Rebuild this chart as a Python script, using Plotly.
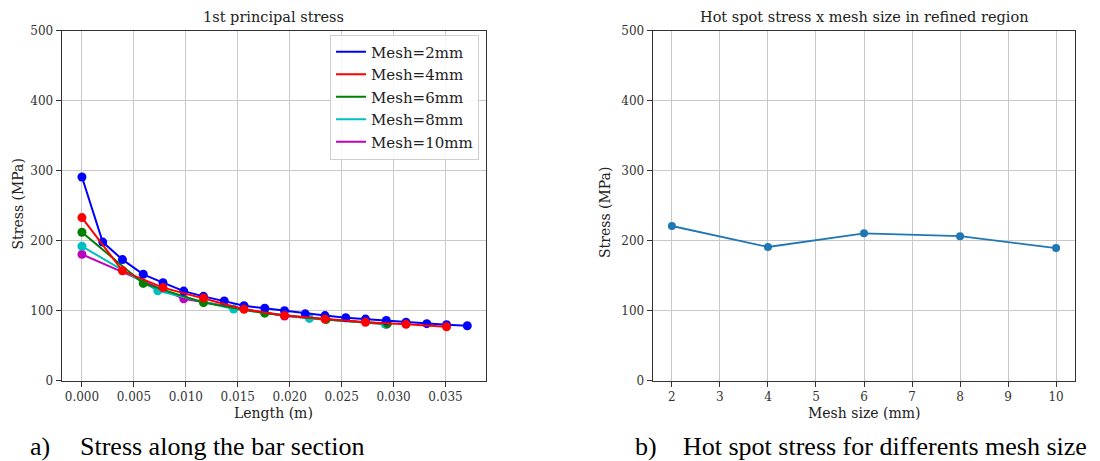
import plotly.graph_objects as go

# 1st principal stress along the bar section, one series per mesh size
len_2mm = [0.0, 0.0020, 0.0039, 0.0059, 0.0078, 0.0098, 0.0117, 0.0137, 0.0156, 0.0176,
           0.0195, 0.0215, 0.0234, 0.0254, 0.0273, 0.0293, 0.0312, 0.0332, 0.0351, 0.0371]
stress_2mm = [291, 198, 173, 152, 140, 128, 120.5, 114, 107, 103.5,
              100, 95.5, 93, 90, 88, 86, 83.5, 81.5, 80, 78.5]

len_4mm = [0.0, 0.0039, 0.0078, 0.0117, 0.0156, 0.0195, 0.0234, 0.0273, 0.0312, 0.0351]
stress_4mm = [233, 157, 133, 118, 102, 93, 88, 83.5, 80.5, 77]

len_6mm = [0.0, 0.0059, 0.0117, 0.0176, 0.0235, 0.0294]
stress_6mm = [212, 139, 111.5, 96.5, 87.5, 81.5]

len_8mm = [0.0, 0.0073, 0.0146, 0.0219, 0.0292]
stress_8mm = [192, 128.5, 102.5, 89, 81]

len_10mm = [0.0, 0.0098, 0.0195, 0.0293]
stress_10mm = [180.5, 117, 92.5, 80.5]

series_names = ["Mesh=2mm", "Mesh=4mm", "Mesh=6mm", "Mesh=8mm", "Mesh=10mm"]
series_colors = ["#0000ff", "#ff0000", "#008000", "#00bfbf", "#bf00bf"]

# Hot spot stress against mesh size in the refined region
mesh_size = [2, 4, 6, 8, 10]
hot_spot = [221, 191, 210.5, 206.5, 189.5]

x_ticks_len = [0.000, 0.005, 0.010, 0.015, 0.020, 0.025, 0.030, 0.035]
x_ticks_mesh = [2, 3, 4, 5, 6, 7, 8, 9, 10]
y_ticks = [0, 100, 200, 300, 400, 500]

AX_FONT = "DejaVu Serif"
CAP_FONT = "Liberation Serif"
W, H = 1100, 461

fig = go.Figure()

series = {
    "Mesh=2mm": (len_2mm, stress_2mm),
    "Mesh=4mm": (len_4mm, stress_4mm),
    "Mesh=6mm": (len_6mm, stress_6mm),
    "Mesh=8mm": (len_8mm, stress_8mm),
    "Mesh=10mm": (len_10mm, stress_10mm),
}
color_of = dict(zip(series_names, series_colors))

# data traces (drawing order: coarse meshes underneath)
for name in ["Mesh=10mm", "Mesh=8mm", "Mesh=6mm", "Mesh=2mm", "Mesh=4mm"]:
    xs, ys = series[name]
    fig.add_trace(go.Scatter(
        x=xs, y=ys, mode="lines+markers", name=name, showlegend=False,
        line=dict(color=color_of[name], width=2),
        marker=dict(color=color_of[name], size=9),
        xaxis="x", yaxis="y",
    ))

# legend entries drawn as plain line samples
for name in series_names:
    fig.add_trace(go.Scatter(
        x=[None], y=[None], mode="lines", name=name,
        line=dict(color=color_of[name], width=2),
        xaxis="x", yaxis="y",
    ))

fig.add_trace(go.Scatter(
    x=mesh_size, y=hot_spot, mode="lines+markers", showlegend=False,
    line=dict(color="#1f77b4", width=1.8),
    marker=dict(color="#1f77b4", size=8),
    xaxis="x2", yaxis="y2",
))

# plot areas in pixels
L1, R1 = 61.7, 486.0
L2, R2 = 652.7, 1075.3
TOP, BOT = 30.7, 380.7

def px_x(p):
    return p / W

def px_y(p):
    return (H - p) / H

axis_common = dict(
    showline=True, linecolor="#333333", linewidth=1.2, mirror=True,
    ticks="outside", ticklen=5, tickwidth=1, tickcolor="#333333",
    showgrid=True, gridcolor="#c8c8c8", gridwidth=1,
    zeroline=False, automargin=False,
    tickfont=dict(family=AX_FONT, size=12, color="#333333"),
)

fig.update_layout(
    width=W, height=H,
    margin=dict(l=0, r=0, t=0, b=0),
    paper_bgcolor="white", plot_bgcolor="white",
    xaxis=dict(domain=[px_x(L1), px_x(R1)], range=[-0.00195, 0.03890],
               tickvals=x_ticks_len, tickformat=".3f", anchor="y", **axis_common),
    yaxis=dict(domain=[px_y(BOT), px_y(TOP)], range=[0, 500],
               tickvals=y_ticks, anchor="x", **axis_common),
    xaxis2=dict(domain=[px_x(L2), px_x(R2)], range=[1.6, 10.4],
                tickvals=x_ticks_mesh, anchor="y2", **axis_common),
    yaxis2=dict(domain=[px_y(BOT), px_y(TOP)], range=[0, 500],
                tickvals=y_ticks, anchor="x2", **axis_common),
    legend=dict(
        x=px_x(479), xanchor="right", y=px_y(34.5), yanchor="top",
        bgcolor="rgba(255,255,255,0.85)", bordercolor="#d0d0d0", borderwidth=1,
        font=dict(family=AX_FONT, size=15, color="#222222"),
        itemwidth=30, tracegroupgap=0,
    ),
    showlegend=True,
)

def text(x, y, s, size, family=AX_FONT, color="#222222", xanchor="center",
         yanchor="middle", angle=0):
    fig.add_annotation(
        x=px_x(x), y=px_y(y), xref="paper", yref="paper", text=s, showarrow=False,
        font=dict(family=family, size=size, color=color),
        xanchor=xanchor, yanchor=yanchor, textangle=angle,
    )

# subplot titles
text((L1 + R1) / 2, 17, "1st principal stress", 14.5)
text((L2 + R2) / 2, 17, "Hot spot stress x mesh size in refined region", 14.5)

# axis titles
text((L1 + R1) / 2, 413, "Length (m)", 14)
text((L2 + R2) / 2, 413, "Mesh size (mm)", 14)
text(17.5, 204, "Stress (MPa)", 14, angle=-90)
text(605, 213, "Stress (MPa)", 14, angle=-90)

# captions
text(28, 446, "a)", 26, family=CAP_FONT, color="#000000", xanchor="left")
text(78, 446, "Stress along the bar section", 26, family=CAP_FONT, color="#000000", xanchor="left")
text(633, 446, "b)", 26, family=CAP_FONT, color="#000000", xanchor="left")
text(680.5, 446, "Hot spot stress for differents mesh size", 26, family=CAP_FONT,
     color="#000000", xanchor="left")

fig.write_html("out.html")
